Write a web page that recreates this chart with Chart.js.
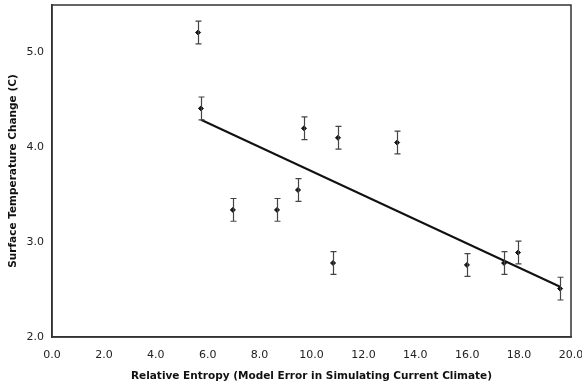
<!DOCTYPE html>
<html>
<head>
<meta charset="utf-8">
<script src="https://cdn.jsdelivr.net/npm/chart.js@4/dist/chart.umd.min.js"></script>
<style>
  html, body { margin: 0; padding: 0; background: #fff; }
  #wrap { width: 582px; height: 386px; }
</style>
</head>
<body>
<div id="wrap"><canvas id="chart"></canvas></div>
<script>
// values
const entropy = [5.63, 5.74, 6.97, 8.67, 9.48, 9.71, 10.83, 11.02, 13.3, 15.99, 17.42, 17.96, 19.58];
const tempChange = [5.21, 4.41, 3.34, 3.34, 3.55, 4.20, 2.78, 4.10, 4.05, 2.76, 2.78, 2.89, 2.51];
const errSize = [0.12, 0.12, 0.12, 0.12, 0.12, 0.12, 0.12, 0.12, 0.12, 0.12, 0.12, 0.12, 0.12];
const trendX = [5.74, 19.58];
const trendY = [4.29, 2.53];
const xTicks = [0, 2, 4, 6, 8, 10, 12, 14, 16, 18, 20];
const yTicks = [2, 3, 4, 5];

const axisColor = "#333";
const fontFamily = "'DejaVu Sans', Verdana, sans-serif";

// error bars + frame, drawn through the chart scales
const errorBars = {
    id: "errorBars",
    afterDatasetsDraw(chart) {
        const ctx = chart.ctx;
        const xs = chart.scales.x, ys = chart.scales.y;
        ctx.save();
        ctx.strokeStyle = "#444";
        ctx.lineWidth = 1.2;
        entropy.forEach((x, i) => {
            const px = Math.round(xs.getPixelForValue(x)) + 0.5;
            const top = ys.getPixelForValue(tempChange[i] + errSize[i]);
            const bot = ys.getPixelForValue(tempChange[i] - errSize[i]);
            ctx.beginPath();
            ctx.moveTo(px, top); ctx.lineTo(px, bot);
            ctx.moveTo(px - 3, top); ctx.lineTo(px + 3, top);
            ctx.moveTo(px - 3, bot); ctx.lineTo(px + 3, bot);
            ctx.stroke();
        });
        const a = chart.chartArea;
        ctx.strokeStyle = axisColor;
        ctx.lineWidth = 1.5;
        ctx.strokeRect(a.left, a.top, a.right - a.left, a.bottom - a.top);
        ctx.restore();
    }
};

const config = {
    type: "scatter",
    data: {
        datasets: [{
            label: "Models",
            data: entropy.map((x, i) => ({ x: x, y: tempChange[i] })),
            backgroundColor: "#111",
            borderColor: "#111",
            pointRadius: 2.5,
            pointStyle: "rectRot",
            order: 1
        }, {
            type: "line",
            label: "Trend",
            data: trendX.map((x, i) => ({ x: x, y: trendY[i] })),
            borderColor: "#111",
            borderWidth: 2,
            pointRadius: 0,
            fill: false,
            order: 2
        }]
    },
    options: {
        responsive: true,
        maintainAspectRatio: false,
        animation: false,
        layout: { padding: { top: 4, right: 11, left: 0, bottom: 0 } },
        plugins: {
            legend: { display: false },
            tooltip: { enabled: false }
        },
        scales: {
            x: {
                type: "linear",
                min: 0,
                max: 20,
                afterBuildTicks: axis => { axis.ticks = xTicks.map(v => ({ value: v })); },
                afterFit: axis => {
                    axis.height = 49;
                    axis.paddingLeft = 0;
                    axis.paddingRight = 0;
                },
                grid: { display: false, drawTicks: false },
                border: { color: axisColor, width: 1.5 },
                ticks: {
                    color: "#222",
                    padding: 12,
                    maxRotation: 0,
                    font: { family: fontFamily, size: 11 },
                    callback: v => v.toFixed(1)
                },
                title: {
                    display: true,
                    text: "Relative Entropy (Model Error in Simulating Current Climate)",
                    color: "#111",
                    padding: { top: 5, bottom: 3 },
                    font: { family: fontFamily, size: 10.5, weight: "bold" }
                }
            },
            y: {
                min: 2,
                max: 5.5,
                afterBuildTicks: axis => { axis.ticks = yTicks.map(v => ({ value: v })); },
                afterFit: axis => {
                    axis.width = 52;
                    axis.paddingTop = 0;
                    axis.paddingBottom = 0;
                },
                grid: { display: false, drawTicks: false },
                border: { color: axisColor, width: 1.5 },
                ticks: {
                    color: "#222",
                    padding: 8,
                    font: { family: fontFamily, size: 11 },
                    callback: v => v.toFixed(1)
                },
                title: {
                    display: true,
                    text: "Surface Temperature Change (C)",
                    color: "#111",
                    padding: { top: 7, bottom: 0 },
                    font: { family: fontFamily, size: 10.5, weight: "bold" }
                }
            }
        }
    },
    plugins: [errorBars]
};

new Chart(document.getElementById("chart"), config);
</script>
</body>
</html>
